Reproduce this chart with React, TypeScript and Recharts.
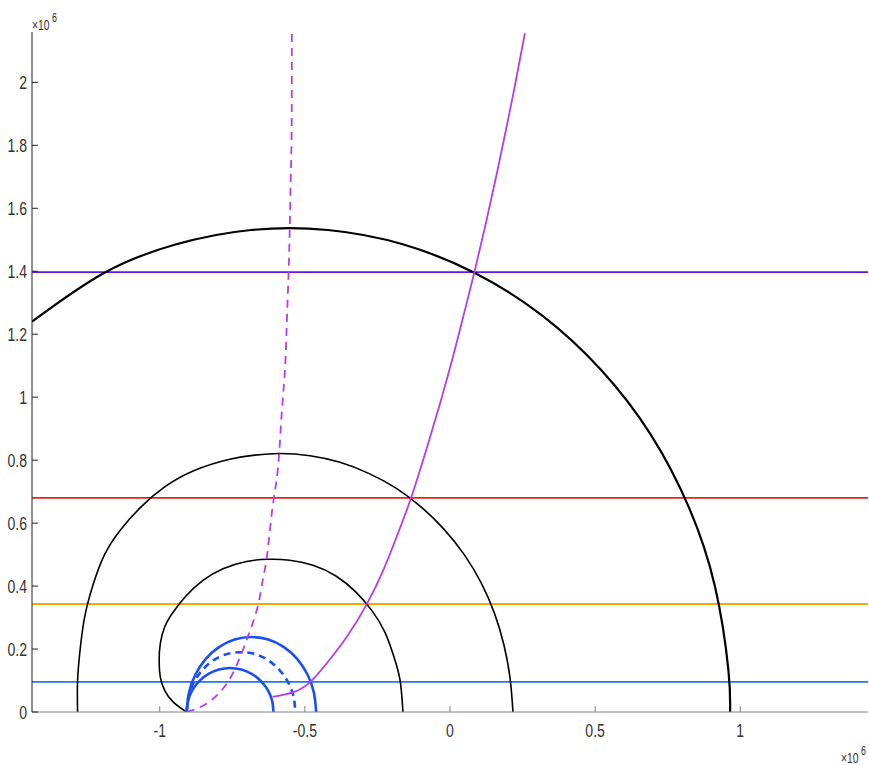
import { LineChart, Line, XAxis, YAxis, ReferenceLine } from "recharts";

// all values are in units of 10^6

// large black arc (runs off the left edge)
const outerArcX = [-1.44, -1.195, -0.946, -0.685, -0.421, -0.16, 0.089, 0.318, 0.52, 0.691, 0.823, 0.913, 0.959, 0.965];
const outerArcY = [1.24, 1.393, 1.485, 1.531, 1.531, 1.485, 1.393, 1.259, 1.087, 0.882, 0.65, 0.398, 0.134, 0];

// middle black arc
const midArcX = [-1.283, -1.283, -1.274, -1.259, -1.231, -1.19, -1.134, -1.066, -0.983, -0.879, -0.759, -0.672, -0.586, -0.482, -0.379, -0.28, -0.186, -0.099, -0.021, 0.049, 0.107, 0.153, 0.186, 0.207, 0.217];
const midArcY = [0, 0.1, 0.2, 0.3, 0.4, 0.5, 0.58, 0.65, 0.715, 0.768, 0.803, 0.816, 0.821, 0.814, 0.793, 0.758, 0.711, 0.651, 0.581, 0.5, 0.411, 0.314, 0.212, 0.107, 0];

// small black loop
const innerArcX = [-0.908, -0.954, -0.983, -0.998, -1.002, -0.998, -0.983, -0.954, -0.908, -0.851, -0.782, -0.701, -0.628, -0.552, -0.472, -0.393, -0.324, -0.269, -0.224, -0.193, -0.172, -0.162];
const innerArcY = [0, 0.032, 0.069, 0.111, 0.164, 0.217, 0.27, 0.317, 0.37, 0.418, 0.455, 0.478, 0.485, 0.482, 0.466, 0.432, 0.381, 0.322, 0.253, 0.175, 0.101, 0];

// blue semicircles
const blueOuterX = [-0.907, -0.899, -0.877, -0.842, -0.796, -0.742, -0.684, -0.626, -0.572, -0.526, -0.491, -0.469, -0.461];
const blueOuterY = [0, 0.062, 0.119, 0.168, 0.206, 0.23, 0.238, 0.23, 0.206, 0.168, 0.119, 0.062, 0];
const blueMidX = [-0.907, -0.901, -0.882, -0.852, -0.814, -0.768, -0.72, -0.672, -0.627, -0.588, -0.558, -0.539, -0.533];
const blueMidY = [0, 0.049, 0.095, 0.134, 0.165, 0.184, 0.19, 0.184, 0.165, 0.134, 0.095, 0.049, 0];
const blueInnerX = [-0.907, -0.902, -0.887, -0.863, -0.832, -0.796, -0.758, -0.719, -0.683, -0.652, -0.628, -0.613, -0.608];
const blueInnerY = [0, 0.036, 0.07, 0.099, 0.121, 0.135, 0.14, 0.135, 0.121, 0.099, 0.07, 0.036, 0];

// violet paths
const pathSolidX = [-0.611, -0.539, -0.482, -0.425, -0.356, -0.287, -0.23, -0.184, -0.135, -0.079, -0.034, 0.007, 0.046, 0.084, 0.122, 0.16, 0.196, 0.227, 0.258];
const pathSolidY = [0.048, 0.063, 0.095, 0.154, 0.238, 0.342, 0.45, 0.556, 0.678, 0.841, 0.981, 1.117, 1.257, 1.397, 1.546, 1.705, 1.863, 2.006, 2.156];
const pathDashX = [-0.907, -0.838, -0.769, -0.723, -0.688, -0.66, -0.645, -0.631, -0.614, -0.6, -0.589, -0.579, -0.568, -0.562, -0.556, -0.552, -0.549, -0.546, -0.545, -0.545];
const pathDashY = [0, 0.027, 0.09, 0.175, 0.26, 0.344, 0.42, 0.492, 0.63, 0.72, 0.815, 0.959, 1.096, 1.244, 1.395, 1.54, 1.68, 1.816, 1.98, 2.155];

// horizontal levels
const levels = [
  { y: 1.397, color: "#6414e6" },
  { y: 0.68, color: "#e8231a" },
  { y: 0.343, color: "#f2a900" },
  { y: 0.096, color: "#2377f0" },
];

const xTicks = [-1, -0.5, 0, 0.5, 1];
const yTicks = [0, 0.2, 0.4, 0.6, 0.8, 1, 1.2, 1.4, 1.6, 1.8, 2];

const pts = (xs: number[], ys: number[]) => xs.map((x, i) => ({ x, y: ys[i] }));

const curves = [
  { key: "outer", data: pts(outerArcX, outerArcY), color: "#000", width: 2.2 },
  { key: "mid", data: pts(midArcX, midArcY), color: "#000", width: 1.6 },
  { key: "inner", data: pts(innerArcX, innerArcY), color: "#000", width: 1.6 },
  { key: "bOuter", data: pts(blueOuterX, blueOuterY), color: "#1a4ff5", width: 2.6 },
  { key: "bMid", data: pts(blueMidX, blueMidY), color: "#1a4ff5", width: 2.6, dash: "7 5" },
  { key: "bInner", data: pts(blueInnerX, blueInnerY), color: "#1a4ff5", width: 2.6 },
  { key: "pSolid", data: pts(pathSolidX, pathSolidY), color: "#b43cf5", width: 1.8 },
  { key: "pDash", data: pts(pathDashX, pathDashY), color: "#b43cf5", width: 1.8, dash: "8 6" },
];

const font = "'Liberation Sans', Arial, sans-serif";

// narrow, tall tick text
const Label = ({ x, y, anchor, size, children }: any) => (
  <text
    transform={`translate(${x},${y}) scale(0.74,1)`}
    textAnchor={anchor}
    fontSize={size}
    fontFamily={font}
    fill="#333"
  >
    {children}
  </text>
);

const XTick = (props: any) => (
  <Label x={props.x} y={737} anchor="middle" size={19}>
    {String(props.payload.value)}
  </Label>
);

const YTick = (props: any) => (
  <Label x={27} y={props.y + 7} anchor="end" size={19}>
    {String(props.payload.value)}
  </Label>
);

export default function App() {
  return (
    <div style={{ position: "absolute", left: 0, top: 0, width: 869, height: 765, background: "#fff" }}>
      <LineChart width={869} height={765} margin={{ top: 32, right: 1, bottom: 23, left: 8 }}>
        <XAxis
          type="number"
          dataKey="x"
          domain={[-1.44, 1.44]}
          ticks={xTicks}
          allowDataOverflow
          height={30}
          stroke="#808080"
          tickSize={-6}
          tick={<XTick />}
        />
        <YAxis
          type="number"
          dataKey="y"
          domain={[0, 2.16]}
          ticks={yTicks}
          allowDataOverflow
          width={24}
          stroke="#222"
          tickSize={-6}
          tick={<YTick />}
        />
        {levels.map((l) => (
          <ReferenceLine key={l.y} y={l.y} stroke={l.color} strokeWidth={1.8} ifOverflow="hidden" />
        ))}
        {curves.map((c) => (
          <Line
            key={c.key}
            data={c.data}
            dataKey="y"
            type="natural"
            stroke={c.color}
            strokeWidth={c.width}
            strokeDasharray={c.dash}
            dot={false}
            activeDot={false}
            isAnimationActive={false}
          />
        ))}
      </LineChart>
      <svg width={869} height={765} style={{ position: "absolute", left: 0, top: 0, pointerEvents: "none" }}>
        <Label x={32} y={30} anchor="start" size={14}>×10</Label>
        <Label x={52} y={22} anchor="start" size={12}>6</Label>
        <Label x={841} y={763} anchor="start" size={14}>×10</Label>
        <Label x={861} y={755} anchor="start" size={12}>6</Label>
      </svg>
    </div>
  );
}
